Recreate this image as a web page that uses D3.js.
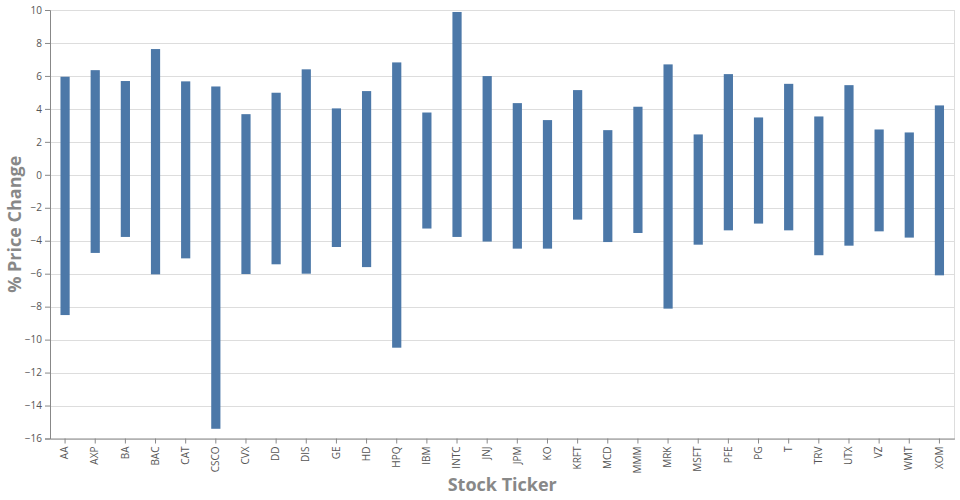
<!DOCTYPE html>
<html><head><meta charset="utf-8">
<script src="https://cdn.jsdelivr.net/npm/d3@7"></script>
<style>body{margin:0;background:#fff;font-family:"Open Sans",sans-serif;}</style>
</head><body><svg id="c" width="960" height="500"></svg>
<script>
const tickers = ["AA","AXP","BA","BAC","CAT","CSCO","CVX","DD","DIS","GE","HD","HPQ","IBM","INTC","JNJ","JPM","KO","KRFT","MCD","MMM","MRK","MSFT","PFE","PG","T","TRV","UTX","VZ","WMT","XOM"];
const maxChange = [5.95,6.35,5.69,7.63,5.67,5.36,3.68,4.98,6.4,4.03,5.08,6.82,3.78,9.88,5.99,4.35,3.32,5.14,2.71,4.13,6.7,2.45,6.11,3.48,5.52,3.54,5.44,2.75,2.57,4.21];
const minChange = [-8.51,-4.74,-3.77,-6.04,-5.07,-15.41,-6.02,-5.43,-6.0,-4.38,-5.6,-10.49,-3.26,-3.77,-4.05,-4.48,-4.48,-2.72,-4.08,-3.53,-8.12,-4.24,-3.37,-2.96,-3.37,-4.88,-4.3,-3.43,-3.81,-6.1];
const yTicks = [-16,-14,-12,-10,-8,-6,-4,-2,0,2,4,6,8,10];

const L=50,R=954.5,T=10,B=438.5;
const svg=d3.select("#c");
const x=d3.scaleBand().domain(tickers).range([L,R]);
const y=d3.scaleLinear().domain([-16,10]).range([B,T]);

// grid
svg.append("g").selectAll("line").data(yTicks).join("line")
  .attr("x1",L).attr("x2",R).attr("y1",d=>Math.round(y(d))+0.5).attr("y2",d=>Math.round(y(d))+0.5)
  .attr("stroke","#ddd").attr("stroke-width",1);
svg.append("line").attr("x1",R).attr("x2",R).attr("y1",T).attr("y2",B).attr("stroke","#ddd");

// bars
const data=tickers.map((t,i)=>({t,hi:maxChange[i],lo:minChange[i]}));
svg.append("g").selectAll("rect").data(data).join("rect")
  .attr("x",d=>x(d.t)+x.bandwidth()/2-4.6).attr("width",9.2)
  .attr("y",d=>y(d.hi)).attr("height",d=>y(d.lo)-y(d.hi))
  .attr("fill","#4c78a8");

// y axis
const ya=svg.append("g").attr("transform",`translate(${L},0)`)
  .call(d3.axisLeft(y).tickValues(yTicks).tickSize(5).tickPadding(3));
ya.select(".domain").attr("stroke","#888");
ya.selectAll(".tick line").attr("stroke","#888");
ya.selectAll("text").attr("fill","#555").style("font-family","Open Sans").style("font-size","10px");

// x axis
const xa=svg.append("g").attr("transform",`translate(0,${B})`)
  .call(d3.axisBottom(x).tickSize(5).tickSizeOuter(0).tickPadding(3));
xa.select(".domain").attr("stroke","#888");
xa.selectAll(".tick line").attr("stroke","#888");
xa.selectAll("text").attr("fill","#555").style("font-family","Open Sans").style("font-size","10px")
  .attr("transform","rotate(-90)").attr("text-anchor","end").attr("dy","0.32em").attr("x",-8).attr("y",0);

// titles
svg.append("text").attr("x",(L+R)/2).attr("y",491).attr("text-anchor","middle")
  .style("font-family","Open Sans").style("font-weight","bold").style("font-size","18px").attr("fill","#888")
  .text("Stock Ticker");
svg.append("text").attr("transform",`translate(21,${(T+B)/2}) rotate(-90)`).attr("text-anchor","middle")
  .style("font-family","Open Sans").style("font-weight","bold").style("font-size","18px").attr("fill","#888")
  .text("% Price Change");
</script></body></html>
